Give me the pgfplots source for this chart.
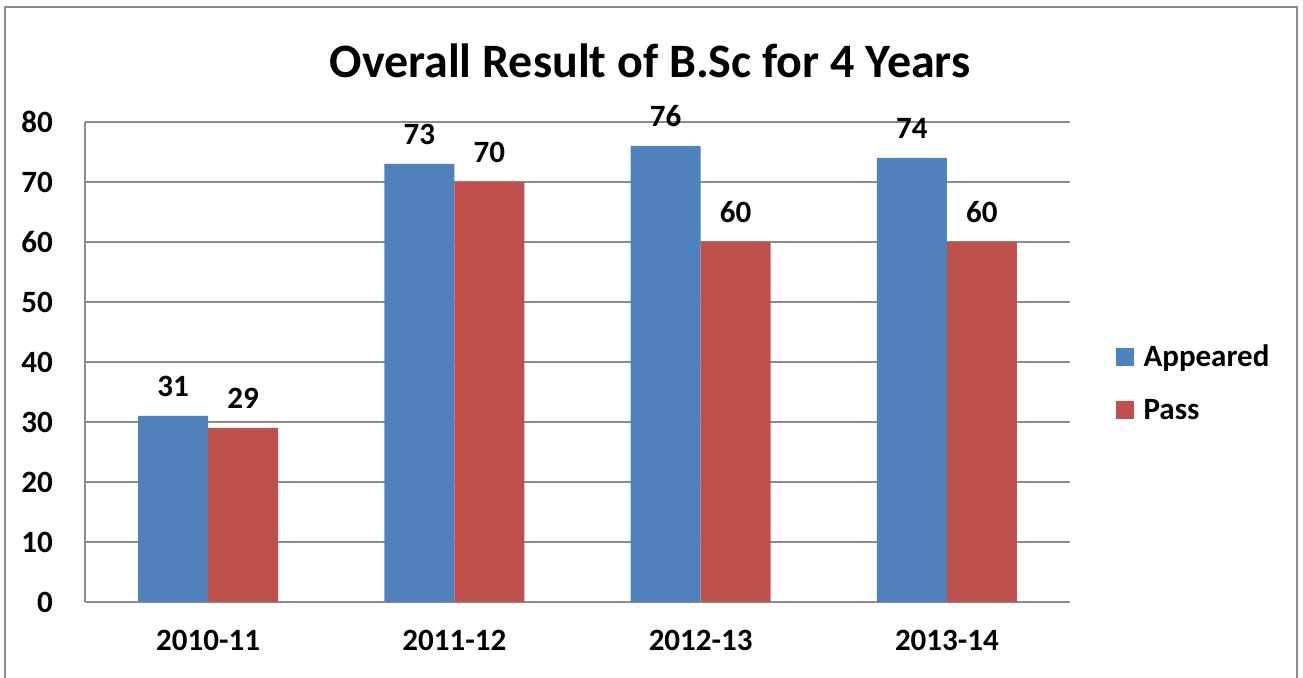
\documentclass[border=0pt]{standalone}
\usepackage{pgfplots}
\pgfplotsset{compat=1.18}
\usepackage{fontspec}
\setmainfont{Carlito}
\definecolor{appeared}{HTML}{4F81BD}
\definecolor{pass}{HTML}{C0504D}
\definecolor{gridgray}{HTML}{8C8C8C}

\begin{document}
\begin{tikzpicture}[x=1pt,y=1pt]
\useasboundingbox (0,0) rectangle (1303,677);
\draw[gridgray,line width=1.5pt] (5,-5) -- (5,670) -- (1297,670) -- (1297,-5);
\node[font=\bfseries\fontsize{48}{56}\selectfont] at (650,616) {Overall Result of B.Sc for 4 Years};
\begin{axis}[at={(85pt,75pt)},anchor=south west,
 scale only axis,width=985pt,height=480pt,
 ybar=0pt,bar width=70pt,
 xmin=-0.5,xmax=3.5,ymin=0,ymax=80,
 xtick={0,1,2,3},xticklabels={2010-11,2011-12,2012-13,2013-14},
 ytick={0,10,...,80},
 axis x line*=bottom,axis y line*=left,
 axis line style={gridgray,line width=1.5pt},
 ymajorgrids,grid style={gridgray,line width=1.5pt},
 major tick length=0pt,
 tick label style={font=\bfseries\fontsize{31}{37}\selectfont},
 yticklabel style={inner sep=0pt,xshift=-32pt},
 xticklabel style={inner sep=0pt,yshift=-28pt},
 /pgf/number format/assume math mode=true,
 nodes near coords,
 nodes near coords style={font=\bfseries\fontsize{31}{37}\selectfont,black,yshift=16pt},
 legend style={at={(1.043,0.456)},anchor=west,draw=none,fill=none,
   font=\bfseries\fontsize{31}{37}\selectfont,row sep=27pt,
   /tikz/every odd column/.append style={column sep=8pt}},
 legend cell align=left,
 legend image code/.code={\fill[#1] (0pt,-9pt) rectangle (18pt,9pt);},
]
\addplot[fill=appeared,draw=none] coordinates {(0,31) (1,73) (2,76) (3,74)};
\addplot[fill=pass,draw=none] coordinates {(0,29) (1,70) (2,60) (3,60)};
\legend{Appeared,Pass}
\end{axis}
\end{tikzpicture}
\end{document}
